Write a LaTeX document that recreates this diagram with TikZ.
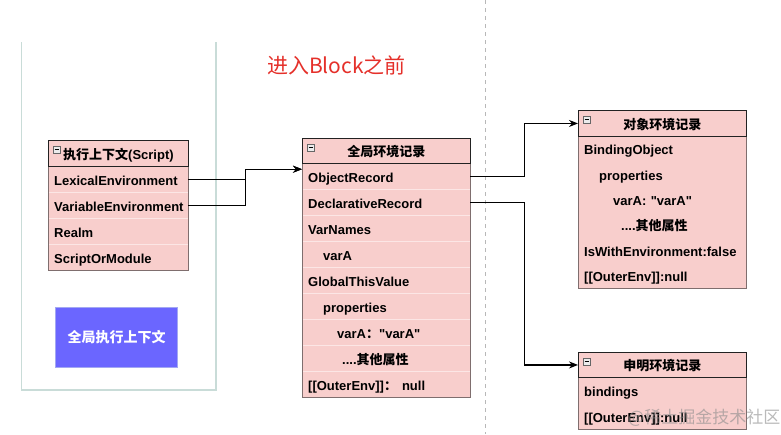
\documentclass[tikz,border=0pt]{standalone}
\usepackage{fontspec}
\setmainfont{Liberation Sans}[Ligatures=TeXOff]
\newfontfamily\cjk{Noto Sans CJK SC}
\usetikzlibrary{arrows.meta,calc}
\definecolor{pinkfill}{HTML}{F8CECC}
\definecolor{bodyline}{HTML}{7F6E6E}
\definecolor{hdrline}{HTML}{222222}
\definecolor{sepline}{HTML}{FCE6E5}
\definecolor{laneline}{HTML}{C9DCD8}
\definecolor{titlered}{HTML}{E5302A}
\definecolor{bluebox}{HTML}{6B66FF}
\definecolor{blueedge}{HTML}{A3A8F2}
\newcommand\zh[1]{{\cjk #1}}
\newcommand\rowfont{\bfseries\fontsize{13}{15}\selectfont}
\tikzset{
  row/.style={anchor=north west, fill=pinkfill, inner xsep=6pt, inner ysep=0pt,
    minimum height=26pt, align=left, font=\rowfont, text height=14pt, text depth=2pt},
  wnarrow/.style={text width=128pt},
  wwide/.style={text width=156pt},
  hdr/.style={anchor=north west, fill=pinkfill, draw=hdrline, line width=0.9pt,
    inner sep=0pt, minimum height=26pt, align=center, font=\rowfont, text height=14pt, text depth=2pt},
  bodybox/.style={draw=bodyline, line width=0.9pt},
  sep/.style={draw=sepline, line width=0.8pt},
  icon/.style={draw=black!60, fill=black!8, line width=0.6pt},
  conn/.style={draw=black, line width=1.1pt, -{Stealth[length=9pt,width=7pt]}},
  lane/.style={draw=laneline, line width=1.5pt},
  dashline/.style={draw=black!28, line width=0.9pt, dash pattern=on 4pt off 4pt},
}
\begin{document}
\begin{tikzpicture}[x=1pt,y=-1pt]
\useasboundingbox (0,0) rectangle (781,434);
\fill[white] (0,0) rectangle (781,434);

% left lane
\draw[lane] (21.5,42) -- (21.5,390) -- (216,390) -- (216,42);
% dashed divider
\draw[dashline] (485,0) -- (485,434);

% title
\node[text=titlered, font=\cjk\fontsize{21}{24}\selectfont] (title) at (336.5,65) {进入Block之前};

% ---- execution context ----
\node[row, wnarrow] (lex) at (48,166) {LexicalEnvironment};
\node[row, wnarrow] (var) at (48,192) {VariableEnvironment};
\node[row, wnarrow] (realm) at (48,218) {Realm};
\node[row, wnarrow] (som) at (48,244) {ScriptOrModule};
\foreach \n in {lex,var,realm} \draw[sep] (\n.south west) -- (\n.south east);
\draw[bodybox] (lex.north west) rectangle (som.south east);
\node[hdr, minimum width=140pt] (eh) at (48,140) {\zh{执行上下文}(Script)};
\draw[icon] ([shift={(5pt,-6pt)}]eh.north west) rectangle ++(7,7);
\draw[line width=0.8pt] ([shift={(6.5pt,-9.5pt)}]eh.north west) -- ++(4,0);

% blue box
\node[fill=bluebox, draw=blueedge, line width=1pt, minimum width=122pt, minimum height=60pt,
  inner sep=0pt, text=white, font=\cjk\bfseries\fontsize{14}{16}\selectfont, anchor=north west]
  (gec) at (55,307) {全局执行上下文};

% ---- global environment record ----
\node[row, wwide] (orec) at (302,163) {ObjectRecord};
\node[row, wwide] (drec) at (302,189) {DeclarativeRecord};
\node[row, wwide] (vnames) at (302,215) {VarNames};
\node[row, wwide] (gvara) at (302,241) {\hspace*{15pt}varA};
\node[row, wwide] (gthis) at (302,267) {GlobalThisValue};
\node[row, wwide] (gprops) at (302,293) {\hspace*{15pt}properties};
\node[row, wwide] (gvarav) at (302,319) {\hspace*{29pt}varA\zh{：}"varA"};
\node[row, wwide] (gother) at (302,345) {\hspace*{34pt}....\zh{其他属性}};
\node[row, wwide] (gouter) at (302,371) {[[OuterEnv]]\zh{：}\hspace{5pt}null};
\foreach \n in {orec,drec,vnames,gvara,gthis,gprops,gvarav,gother} \draw[sep] (\n.south west) -- (\n.south east);
\draw[bodybox] (orec.north west) rectangle (gouter.south east);
\node[hdr, minimum width=168pt, minimum height=25pt] (gh) at (302,138) {\zh{全局环境记录}};
\draw[icon] ([shift={(5pt,-6pt)}]gh.north west) rectangle ++(7,7);
\draw[line width=0.8pt] ([shift={(6.5pt,-9.5pt)}]gh.north west) -- ++(4,0);

% ---- object environment record ----
\node[row, wwide, minimum height=25.33pt] (bobj) at (578,136) {BindingObject};
\node[row, wwide, minimum height=25.33pt] (oprops) at (578,161.33) {\hspace*{15pt}properties};
\node[row, wwide, minimum height=25.33pt] (ovara) at (578,186.67) {\hspace*{29pt}varA: "varA"};
\node[row, wwide, minimum height=25.33pt] (oother) at (578,212) {\hspace*{37pt}....\zh{其他属性}};
\node[row, wwide, minimum height=25.33pt] (owith) at (578,237.33) {IsWithEnvironment:false};
\node[row, wwide, minimum height=25.33pt] (oouter) at (578,262.67) {[[OuterEnv]]:null};
\draw[bodybox] (bobj.north west) rectangle (oouter.south east);
\node[hdr, minimum width=168pt] (oh) at (578,110) {\zh{对象环境记录}};
\draw[icon] ([shift={(5pt,-6pt)}]oh.north west) rectangle ++(7,7);
\draw[line width=0.8pt] ([shift={(6.5pt,-9.5pt)}]oh.north west) -- ++(4,0);

% ---- declarative environment record ----
\node[row, wwide] (binds) at (578,377) {bindings};
\node[row, wwide] (douter) at (578,403) {[[OuterEnv]]:null};
\draw[bodybox] (binds.north west) rectangle (douter.south east);
\node[hdr, minimum width=168pt, minimum height=25pt] (dh) at (578,352) {\zh{申明环境记录}};
\draw[icon] ([shift={(5pt,-6pt)}]dh.north west) rectangle ++(7,7);
\draw[line width=0.8pt] ([shift={(6.5pt,-9.5pt)}]dh.north west) -- ++(4,0);

% ---- connectors ----
\draw[conn] (lex.east) -- ++(57,0) |- ([yshift=7pt]orec.west);
\draw[conn] (var.east) -- ++(57,0) |- ([yshift=7pt]orec.west);
\draw[conn] (orec.east) -- ++(54,0) |- (oh.west);
\draw[conn] (drec.east) -- ++(54,0) |- (dh.west);

% watermark
\node[anchor=west, text=black!45, opacity=0.6, font=\cjk\fontsize{17}{19}\selectfont, inner sep=0pt]
  (wm) at (628,418) {@稀土掘金技术社区};
\end{tikzpicture}
\end{document}
